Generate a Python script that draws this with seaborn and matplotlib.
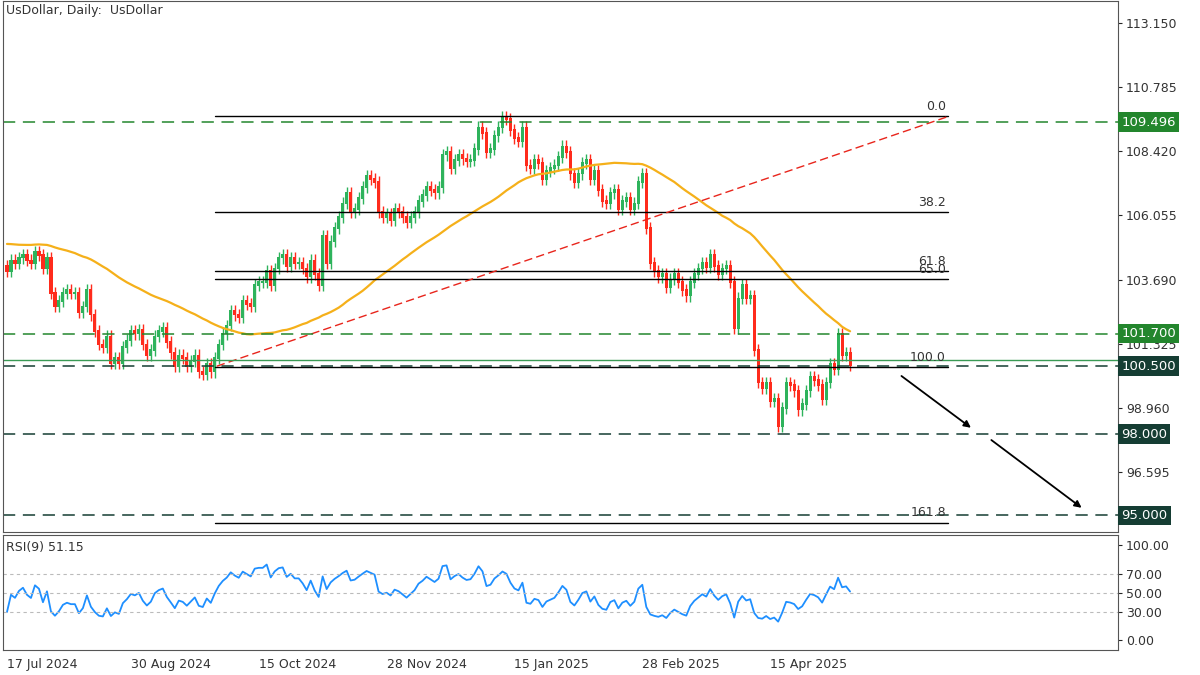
import numpy as np
import pandas as pd
import seaborn as sns
import matplotlib.pyplot as plt
import matplotlib.transforms as mtrans

# daily closes, 17 Jul 2024 -> early May 2025
closes = [
    104.0, 104.4, 104.3, 104.5, 104.6, 104.4, 104.3, 104.7, 104.6, 104.1,
    104.5, 103.2, 102.7, 102.9, 103.2, 103.3, 103.2, 103.2, 102.5, 102.7,
    103.3, 102.4, 101.8, 101.3, 101.2, 101.6, 100.6, 100.8, 100.6, 101.2,
    101.45, 101.8, 101.7, 101.85, 101.3, 100.9, 101.1, 101.6, 101.8, 101.9,
    101.4, 101.0, 100.5, 100.9, 100.8, 100.5, 100.7, 100.9, 100.3, 100.2,
    100.6, 100.3, 100.8, 101.3, 101.7, 102.0, 102.55, 102.4, 102.3, 102.9,
    102.8, 102.7, 103.5, 103.6, 103.6, 104.0, 103.5, 104.1, 104.5, 104.6,
    104.2, 104.5, 104.3, 104.3, 104.1, 103.8, 104.4, 103.9, 103.5, 105.3,
    104.3, 105.1, 105.6, 106.0, 106.5, 106.9, 106.2, 106.3, 106.7, 107.1,
    107.5, 107.4, 107.3, 106.2, 106.0, 106.1, 105.9, 106.3, 106.2, 106.0,
    105.8, 106.0, 106.2, 106.6, 106.8, 107.1, 107.0, 106.9, 107.1, 108.3,
    108.4, 107.8, 108.1, 108.3, 108.15, 108.05, 108.1, 108.5, 109.3, 109.1,
    108.4, 108.5, 109.0, 109.3, 109.7, 109.6, 109.2, 108.9, 108.8, 109.3,
    107.9, 107.8, 108.1, 108.0, 107.4, 107.7, 107.8, 107.9, 108.2, 108.6,
    108.4, 107.6, 107.3, 107.6, 108.0, 108.1, 107.4, 107.7, 107.0, 106.6,
    106.5, 106.9, 107.0, 106.3, 106.6, 106.7, 106.3, 106.5, 107.3, 107.6,
    105.6, 104.3, 104.0, 103.8, 103.9, 103.4, 103.7, 103.9, 103.6, 103.3,
    103.1, 103.6, 103.9, 104.1, 104.3, 104.15, 104.6, 104.2, 103.9, 104.1,
    104.2, 103.6, 101.9, 103.0, 103.5, 103.0, 103.1, 101.1, 99.9, 99.7,
    99.9, 99.2, 99.3, 98.3, 98.95, 99.9, 99.8, 99.6, 98.9, 99.1,
    99.6, 100.1, 100.0, 99.8, 99.3, 99.9, 100.6, 100.4, 101.7, 100.9,
    101.0, 100.55,
]
# closes before the visible window, only used to warm up the moving average / RSI
pre_closes = [
    104.6, 104.7, 104.9, 105.1, 104.8, 104.5, 104.3, 104.1, 104.3, 104.6,
    104.9, 105.2, 105.3, 105.1, 105.0, 105.2, 105.4, 105.6, 105.8, 105.7,
    105.5, 105.6, 105.9, 105.8, 105.7, 105.8, 105.9, 106.0, 105.9, 105.8,
    105.9, 105.7, 105.5, 105.3, 105.2, 105.0, 104.9, 104.8, 104.6, 104.5,
    104.4, 104.3, 104.2, 104.1, 104.3, 104.4, 104.2, 104.1, 104.3, 104.2,
]
tick_idx = [0, 31, 63, 95, 127, 159, 191]
tick_lbl = ["17 Jul 2024", "30 Aug 2024", "15 Oct 2024", "28 Nov 2024",
            "15 Jan 2025", "28 Feb 2025", "15 Apr 2025"]
price_ticks = [113.150, 110.785, 108.420, 106.055, 103.690, 101.325, 98.960, 96.595]
fib_high, fib_low = 109.73, 100.46
fib_levels = [0.0, 38.2, 61.8, 65.0, 100.0, 161.8]
levels_green = [109.496, 101.700]
levels_dark = [100.500, 98.000, 95.000]
trend_pts = ([52.5, 235.5], [100.5, 109.7])

GREEN = "#2eb35c"
RED = "#ff2b1c"

allc = pd.Series(pre_closes + closes)
ma = allc.rolling(50).mean().iloc[len(pre_closes):].to_numpy()
d = allc.diff()
up = d.clip(lower=0).ewm(alpha=1 / 9, adjust=False).mean()
dn = (-d.clip(upper=0)).ewm(alpha=1 / 9, adjust=False).mean()
rsi = (100 - 100 / (1 + up / dn)).iloc[len(pre_closes):].to_numpy()

n = len(closes)
idx = np.arange(n)
opens = np.array([pre_closes[-1]] + closes[:-1])
cl = np.array(closes)
df = pd.DataFrame({"i": idx, "ma": ma, "rsi": rsi})

sns.set_style("white")
plt.rcParams["font.family"] = ["DejaVu Sans"]
fig = plt.figure(figsize=(12, 6.75), dpi=100)
ax = fig.add_axes([0.0025, 0.2119, 0.929, 0.7866])
ax2 = fig.add_axes([0.0025, 0.037, 0.929, 0.170])

# candles
col = np.where(cl >= opens, GREEN, RED)
hi = np.maximum(cl, opens) + 0.22
lo = np.minimum(cl, opens) - 0.22
ax.vlines(idx, lo, hi, colors=col, lw=1)
ax.bar(idx, np.abs(cl - opens) + 0.06, bottom=np.minimum(cl, opens) - 0.03,
       width=0.78, color=col, lw=0)

sns.lineplot(data=df, x="i", y="ma", ax=ax, color="#f5b01a", lw=1.6)

# fibonacci
for lv in fib_levels:
    p = fib_high - (fib_high - fib_low) * lv / 100
    ax.plot([52, 235.5], [p, p], color="black", lw=1)
    ax.text(235, p + 0.12, f"{lv:.1f}", ha="right", va="bottom", fontsize=9, color="#333333")

ax.plot(*trend_pts, color="#e8251c", lw=1, ls=(0, (6, 3)))

tr = mtrans.blended_transform_factory(ax.transAxes, ax.transData)
for v in levels_green:
    ax.axhline(v, color="#23862d", lw=1.1, ls=(0, (8, 5)))
for v in levels_dark:
    ax.axhline(v, color="#153d33", lw=1.1, ls=(0, (8, 5)))
ax.axhline(100.72, color="#3a9a55", lw=1)

ax.annotate("", xy=(241.8, 98.17), xytext=(223.3, 100.2),
            arrowprops=dict(arrowstyle="-|>", color="black", lw=1.3))
ax.annotate("", xy=(269.5, 95.22), xytext=(245.8, 97.84),
            arrowprops=dict(arrowstyle="-|>", color="black", lw=1.3))

ax.set_xlim(-1, 278)
ax.set_ylim(94.39, 113.96)
ax.yaxis.tick_right()
ax.set_yticks(price_ticks)
ax.set_yticklabels([f"{t:.3f}" for t in price_ticks], fontsize=9, color="#333333")
ax.set_xticks([])
ax.set_xlabel("")
ax.set_ylabel("")
ax.tick_params(axis="y", length=3, pad=3)

for v in levels_green:
    ax.text(1.003, v, f"{v:.3f}", transform=tr, va="center", ha="left", fontsize=9.5, color="white",
            bbox=dict(boxstyle="square,pad=0.25", fc="#23862d", ec="none"))
for v in levels_dark:
    ax.text(1.003, v, f"{v:.3f}", transform=tr, va="center", ha="left", fontsize=9.5, color="white",
            bbox=dict(boxstyle="square,pad=0.25", fc="#153d33", ec="none"))

ax.text(0.003, 0.995, "UsDollar, Daily:  UsDollar", transform=ax.transAxes,
        va="top", ha="left", fontsize=9, color="#333333")

# RSI panel
sns.lineplot(data=df, x="i", y="rsi", ax=ax2, color="#1e8fff", lw=1.3)
for v in [70, 50, 30]:
    ax2.axhline(v, color="#bbbbbb", lw=0.8, ls=(0, (3, 3)))
ax2.set_xlim(-1, 278)
ax2.set_ylim(-10.5, 110.5)
ax2.yaxis.tick_right()
ax2.set_yticks([100, 70, 50, 30, 0])
ax2.set_yticklabels(["100.00", "70.00", "50.00", "30.00", "0.00"], fontsize=9, color="#333333")
ax2.set_xticks(tick_idx)
ax2.set_xticklabels(tick_lbl, fontsize=9, color="#333333", ha="left")
ax2.tick_params(axis="x", length=3, pad=3)
ax2.tick_params(axis="y", length=3, pad=3)
ax2.set_xlabel("")
ax2.set_ylabel("")
ax2.text(0.003, 0.95, f"RSI(9) {rsi[-1]:.2f}", transform=ax2.transAxes,
         va="top", ha="left", fontsize=9, color="#333333")

for a in (ax, ax2):
    for s in a.spines.values():
        s.set_color("#555555")
        s.set_linewidth(0.8)

fig.savefig("out.png", dpi=100)
